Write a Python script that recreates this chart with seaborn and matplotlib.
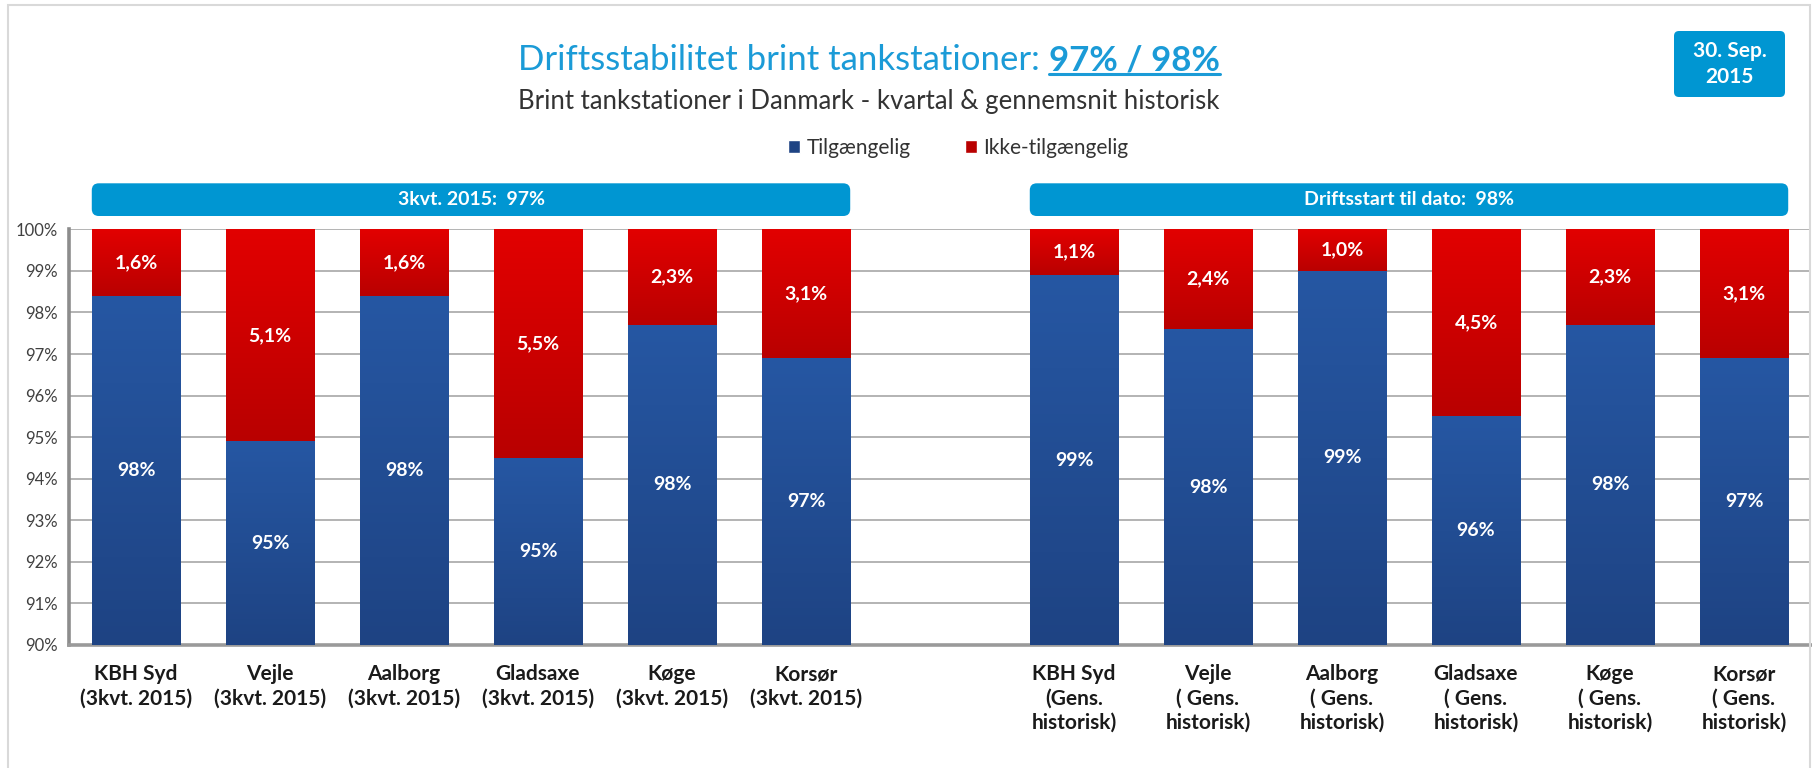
import numpy as np
import pandas as pd
import matplotlib
matplotlib.use('Agg')
import matplotlib.pyplot as plt
import seaborn as sns
from matplotlib.patches import FancyBboxPatch, Rectangle, Patch
from matplotlib.transforms import IdentityTransform
from matplotlib.colors import to_rgb

# data
stations = ['KBH Syd', 'Vejle', 'Aalborg', 'Gladsaxe', 'Køge', 'Korsør']
labels_q = ['KBH Syd\n(3kvt. 2015)', 'Vejle\n(3kvt. 2015)', 'Aalborg\n(3kvt. 2015)',
            'Gladsaxe\n(3kvt. 2015)', 'Køge\n(3kvt. 2015)', 'Korsør\n(3kvt. 2015)']
labels_h = ['KBH Syd\n(Gens.\nhistorisk)', 'Vejle\n( Gens.\nhistorisk)', 'Aalborg\n( Gens.\nhistorisk)',
            'Gladsaxe\n( Gens.\nhistorisk)', 'Køge\n( Gens.\nhistorisk)', 'Korsør\n( Gens.\nhistorisk)']
avail_q = [98.4, 94.9, 98.4, 94.5, 97.7, 96.9]
unavail_q = [1.6, 5.1, 1.6, 5.5, 2.3, 3.1]
avail_h = [98.9, 97.6, 99.0, 95.5, 97.7, 96.9]
unavail_h = [1.1, 2.4, 1.0, 4.5, 2.3, 3.1]
y_ticks = list(range(90, 101))
banner_q = '3kvt. 2015:  97%'
banner_h = 'Driftsstart til dato:  98%'

spacer = ' '
order = labels_q + [spacer] + labels_h
df = pd.DataFrame({
    'station': order,
    'avail': avail_q + [np.nan] + avail_h,
    'unavail': unavail_q + [np.nan] + unavail_h,
})
df['total'] = df['avail'] + df['unavail']

BLUE_TOP, BLUE_BOT = '#2657a3', '#1e4383'
RED_TOP, RED_BOT = '#e20000', '#b90000'
BANNER = '#0096d2'
TITLE_BLUE = '#1b9bd7'
FONT = 'Lato'

sns.set_theme(style='white')
plt.rcParams['font.family'] = [FONT, 'DejaVu Sans']

W, H, DPI = 1812, 768, 100
fig = plt.figure(figsize=(W / DPI, H / DPI), dpi=DPI)
ax = fig.add_axes([69 / W, 1 - 645 / H, (1811 - 69) / W, (645 - 229.3) / H])

bw = 0.66
sns.barplot(data=df, x='station', y='total', order=order, color=RED_BOT, width=bw,
            ax=ax, errorbar=None, saturation=1, linewidth=0)
n_red = len(ax.patches)
sns.barplot(data=df, x='station', y='avail', order=order, color=BLUE_BOT, width=bw,
            ax=ax, errorbar=None, saturation=1, linewidth=0)
red_patches = ax.patches[:n_red]
blue_patches = ax.patches[n_red:]


def grad(c_top, c_bot, n=100):
    t = np.linspace(0, 1, n)[:, None]
    a, b = np.array(to_rgb(c_bot)), np.array(to_rgb(c_top))
    return (a + (b - a) * t)[:, None, :]


# gradient fill, clipped to each bar
avail_all = df['avail'].to_numpy()
for p in red_patches:
    i = int(round(p.get_x() + p.get_width() / 2))
    if np.isnan(avail_all[i]):
        continue
    p.set_zorder(2)
    im = ax.imshow(grad(RED_TOP, RED_BOT), extent=(p.get_x(), p.get_x() + p.get_width(), avail_all[i], 100),
                   origin='lower', aspect='auto', zorder=2.1, interpolation='bilinear')
    im.set_clip_path(p)
for p in blue_patches:
    i = int(round(p.get_x() + p.get_width() / 2))
    if np.isnan(avail_all[i]):
        continue
    p.set_zorder(3)
    im = ax.imshow(grad(BLUE_TOP, BLUE_BOT), extent=(p.get_x(), p.get_x() + p.get_width(), 90, avail_all[i]),
                   origin='lower', aspect='auto', zorder=3.1, interpolation='bilinear')
    im.set_clip_path(p)

ax.set_ylim(90, 100)
ax.set_xlim(-0.5, len(order) - 0.5)

# value labels
for i, row in df.iterrows():
    if np.isnan(row['avail']):
        continue
    ax.text(i, (90 + row['avail']) / 2, f"{int(np.floor(row['avail'] + 0.5))}%",
            ha='center', va='center', color='white', fontsize=14, fontweight='bold', zorder=5)
    ax.text(i, (row['avail'] + 100) / 2, f"{row['unavail']:.1f}%".replace('.', ','),
            ha='center', va='center', color='white', fontsize=14, fontweight='bold', zorder=5)

# axes styling
ax.set_yticks(y_ticks)
ax.set_yticklabels([f'{v}%' for v in y_ticks], fontsize=12, color='#404040')
ax.yaxis.grid(True, color='#b3b3b3', linewidth=1.4)
ax.set_axisbelow(True)
ax.set_xlabel('')
ax.set_ylabel('')
ax.set_xticks(range(len(order)))
ax.set_xticklabels(order, fontsize=15, fontweight='bold', color='#1a1a1a', linespacing=1.25)
ax.set_xticks(np.arange(-0.5, len(order)), minor=True)
ax.tick_params(axis='x', which='major', length=0, pad=14)
ax.tick_params(axis='x', which='minor', length=8, width=2, color='#8c8c8c', direction='out')
ax.tick_params(axis='y', length=5, width=2, color='#8c8c8c', direction='out', pad=3)
for s in ['top', 'right']:
    ax.spines[s].set_visible(False)
ax.spines['left'].set_color('#8c8c8c')
ax.spines['left'].set_linewidth(2.6)
ax.spines['bottom'].set_color('#9a9a9a')
ax.spines['bottom'].set_linewidth(2.6)

# outer frame
fig.patches.append(Rectangle((8, -20), 1810 - 8, 763 + 20, transform=IdentityTransform(),
                             fill=False, edgecolor='#d9d9d9', linewidth=1.5))

# banners above bar groups
fig.canvas.draw()
for first, last, txt in [(0, 5, banner_q), (7, 12, banner_h)]:
    x0 = ax.transData.transform((first - bw / 2, 0))[0]
    x1 = ax.transData.transform((last + bw / 2, 0))[0]
    y0, y1 = H - 216, H - 183.3
    fig.patches.append(FancyBboxPatch((x0, y0), x1 - x0, y1 - y0,
                                      boxstyle='round,pad=0,rounding_size=7',
                                      transform=IdentityTransform(), facecolor=BANNER,
                                      edgecolor='none'))
    fig.text((x0 + x1) / 2 / W, (y0 + y1) / 2 / H, txt, ha='center', va='center',
             color='white', fontsize=14, fontweight='bold')

# date box
fig.patches.append(FancyBboxPatch((1674, H - 97), 111, 66, boxstyle='round,pad=0,rounding_size=5',
                                  transform=IdentityTransform(), facecolor=BANNER, edgecolor='none'))
fig.text(1729.5 / W, (H - 64) / H, '30. Sep.\n2015', ha='center', va='center', color='white',
         fontsize=15, fontweight='bold', linespacing=1.35)

# title: regular part + bold underlined part
r = fig.canvas.get_renderer()
ty = 1 - 60 / H
t1 = fig.text(0, ty, 'Driftsstabilitet brint tankstationer: ', ha='left', va='center',
              color=TITLE_BLUE, fontsize=25)
t2 = fig.text(0, ty, '97% / 98%', ha='left', va='center', color=TITLE_BLUE,
              fontsize=25, fontweight='bold')
w1 = t1.get_window_extent(r).width
w2 = t2.get_window_extent(r).width
xc = 869
xs = xc - (w1 + w2) / 2
t1.set_x(xs / W)
t2.set_x((xs + w1) / W)
bb = t2.get_window_extent(r)
fig.add_artist(plt.Line2D([bb.x0, bb.x1], [bb.y0 + 2, bb.y0 + 2], transform=IdentityTransform(),
                          color=TITLE_BLUE, linewidth=2.2))

fig.text(869 / W, 1 - 101 / H, 'Brint tankstationer i Danmark - kvartal & gennemsnit historisk',
         ha='center', va='center', color='#333333', fontsize=18.5)

# legend
handles = [Patch(facecolor=BLUE_BOT, label='Tilgængelig'),
           Patch(facecolor=RED_BOT, label='Ikke-tilgængelig')]
fig.legend(handles=handles, loc='center', bbox_to_anchor=(958 / W, 1 - 148 / H), ncol=2,
           frameon=False, fontsize=15, handlelength=0.6, handleheight=0.6, handletextpad=0.3,
           columnspacing=2.6, labelcolor='#333333')

fig.savefig('out.png', dpi=DPI)
